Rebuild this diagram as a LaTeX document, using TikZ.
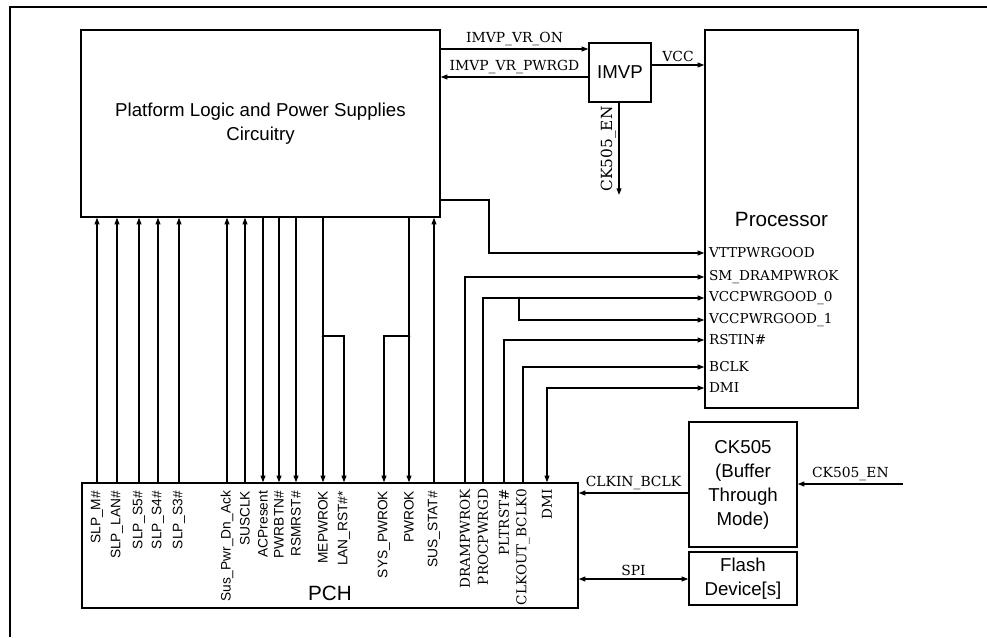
\documentclass[tikz,border=0pt]{standalone}
\usepackage{fontspec}
\setmainfont{DejaVu Serif}
\setsansfont{Liberation Sans}
\usetikzlibrary{arrows.meta}

\tikzset{
  box/.style={draw, inner sep=0pt, align=center, font=\sffamily},
  pinlabel/.style={rotate=90, anchor=east, inner sep=1pt, font=\sffamily\fontsize{10.3}{12}\selectfont},
  spinlabel/.style={rotate=90, anchor=east, inner sep=1pt, font=\fontsize{10.2}{12}\selectfont},
  plabel/.style={anchor=west, inner sep=1pt, font=\fontsize{10.2}{12}\selectfont},
  sig/.style={font=\fontsize{10.4}{12}\selectfont, inner sep=2pt},
  >={Triangle[length=5pt,width=3.6pt]}
}

\begin{document}
\begin{tikzpicture}[x=0.75pt,y=-0.75pt,line width=1pt]
\useasboundingbox (0,0) rectangle (987,637);
% frame
\draw (10,637) -- (10,7) -- (987,7);

% blocks
\node[box, minimum width=269.25pt, minimum height=140.25pt, font=\sffamily\fontsize{14}{17.5}\selectfont] (plat) at (260.5,123.5) {Platform Logic and Power Supplies\\Circuitry};
\node[box, minimum width=46.5pt, minimum height=44.25pt, font=\sffamily\fontsize{14}{16}\selectfont] (imvp) at (620,72.5) {IMVP};
\node[box, minimum width=114.75pt, minimum height=283.5pt, font=\sffamily\fontsize{15.5}{18}\selectfont] (proc) at (781.5,219) {Processor};
\node[box, minimum width=372pt, minimum height=93.75pt] (pch) at (330,545.5) {};
\node[font=\sffamily\fontsize{15.5}{18}\selectfont] (pchname) at (330,593) {PCH};
\node[box, minimum width=81pt, minimum height=93.75pt, font=\sffamily\fontsize{14}{18}\selectfont] (ck) at (743,484.5) {CK505\\(Buffer\\Through\\Mode)};
\node[box, minimum width=81pt, minimum height=39.75pt, font=\sffamily\fontsize{14}{18}\selectfont] (flash) at (743,578.5) {Flash\\Device[s]};

% PCH pins
\foreach \x/\n/\t in {97/slpm/SLP\_M\#, 117/slplan/SLP\_LAN\#, 139/slps5/SLP\_S5\#, 158/slps4/SLP\_S4\#,
  179/slps3/SLP\_S3\#, 227/suspwr/Sus\_Pwr\_Dn\_Ack, 245/susclk/SUSCLK, 263/acp/ACPresent,
  279/pwrbtn/PWRBTN\#, 296/rsmrst/RSMRST\#, 323/mep/MEPWROK, 344/lanrst/LAN\_RST\#*,
  384/syspw/SYS\_PWROK, 409/pwrok/PWROK, 434/susstat/SUS\_STAT\#}
  \node[pinlabel] (\n) at (\x,489) {\t};
\foreach \x/\n/\t in {465/dram/DRAMPWROK, 483/procpg/PROCPWRGD, 504/plt/PLTRST\#,
  523/clkout/CLKOUT\_BCLK0, 547/dmip/DMI}
  \node[spinlabel] (\n) at (\x,487) {\t};

% processor pins
\foreach \y/\n/\t in {253/vtt/VTTPWRGOOD, 277/smd/SM\_DRAMPWROK, 298/vcc0/VCCPWRGOOD\_0,
  320/vcc1/VCCPWRGOOD\_1, 340/rst/RSTIN\#, 367/bclk/BCLK, 388/dmi/DMI}
  \node[plabel] (\n) at (707,\y) {\t};

% PCH <-> platform
\foreach \n in {slpm,slplan,slps5,slps4,slps3,suspwr,susclk,susstat}
  \draw[->] (\n.east |- pch.north) -- (\n.east |- plat.south);
\foreach \n in {acp,pwrbtn,rsmrst,mep,pwrok}
  \draw[->] (\n.east |- plat.south) -- (\n.east |- pch.north);
\coordinate (j2) at (mep.east |- 0,336);
\coordinate (j3) at (pwrok.east |- 0,336);
\draw[->] (j2) -| (lanrst.east |- pch.north);
\draw[->] (j3) -| (syspw.east |- pch.north);
\fill (j2) circle (1.5);
\fill (j3) circle (1.5);

% PCH -> processor
\foreach \a/\b in {dram/smd, procpg/vcc0, plt/rst, clkout/bclk}
  \draw[->] (\a.east |- pch.north) |- (proc.west |- \b);
\draw[<->] (dmip.east |- pch.north) |- (proc.west |- dmi);
\coordinate (j1) at (519,298);
\draw[->] (j1) |- (proc.west |- vcc1);
\fill (j1) circle (1.5);
\coordinate (vttc) at (489,200);
\draw[->] (plat.east |- vttc) -- (vttc) |- (proc.west |- vtt);

% IMVP
\draw[->] (plat.east |- 0,49) -- node[above,sig] {IMVP\_VR\_ON} (imvp.west |- 0,49);
\draw[<-] (plat.east |- 0,77) -- node[above,sig] {IMVP\_VR\_PWRGD} (imvp.west |- 0,77);
\draw[->] (imvp.east |- 0,65) -- node[above,sig] {VCC} (proc.west |- 0,65);
\coordinate (ckend) at (619,195);
\draw[->] (imvp.south -| ckend) -- node[rotate=90, above, inner sep=2pt, font=\fontsize{11.5}{13}\selectfont] {CK505\_EN} (ckend);

% clock and flash
\draw[->] (ck.west |- 0,493) -- node[above,sig] {CLKIN\_BCLK} (pch.east |- 0,493);
\draw[<->] (pch.east |- 0,579) -- node[above,sig] {SPI} (flash.west |- 0,579);
\coordinate (cken) at (903,484);
\draw[->] (cken) -- node[above,sig] {CK505\_EN} (ck.east |- cken);
\end{tikzpicture}
\end{document}
